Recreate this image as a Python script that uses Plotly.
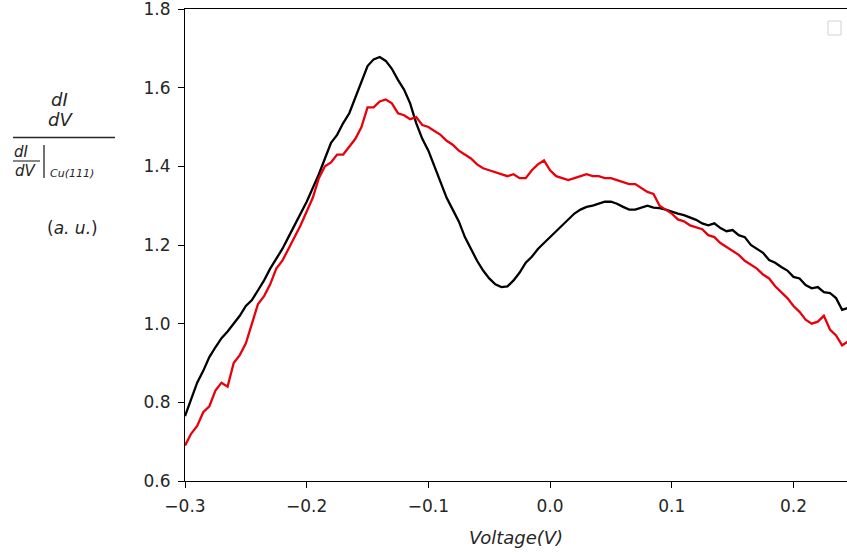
import plotly.graph_objects as go

# ---- data ----
voltage = [round(-0.300 + 0.005 * i, 3) for i in range(110)]

black_curve = [
    0.765, 0.81, 0.85, 0.88, 0.915, 0.94, 0.963, 0.98, 1.00, 1.02,
    1.045, 1.06, 1.085, 1.11, 1.14, 1.165, 1.19, 1.22, 1.25, 1.28,
    1.31, 1.345, 1.38, 1.42, 1.46, 1.48, 1.51, 1.535, 1.575, 1.62,
    1.655, 1.672, 1.678, 1.668, 1.648, 1.62, 1.595, 1.56, 1.51, 1.47,
    1.44, 1.40, 1.36, 1.32, 1.29, 1.26, 1.22, 1.19, 1.16, 1.135,
    1.115, 1.10, 1.093, 1.095, 1.11, 1.13, 1.155, 1.17, 1.19, 1.205,
    1.22, 1.235, 1.25, 1.265, 1.28, 1.29, 1.297, 1.30, 1.305, 1.31,
    1.31, 1.305, 1.297, 1.29, 1.29, 1.296, 1.30, 1.295, 1.294, 1.29,
    1.284, 1.28, 1.276, 1.27, 1.264, 1.255, 1.25, 1.255, 1.243, 1.235,
    1.238, 1.225, 1.22, 1.20, 1.19, 1.18, 1.162, 1.155, 1.144, 1.135,
    1.119, 1.115, 1.098, 1.09, 1.093, 1.08, 1.078, 1.065, 1.035, 1.04,
]

red_curve = [
    0.69, 0.72, 0.74, 0.775, 0.79, 0.83, 0.85, 0.84, 0.90, 0.92,
    0.95, 1.00, 1.05, 1.07, 1.10, 1.14, 1.16, 1.19, 1.22, 1.25,
    1.285, 1.32, 1.37, 1.40, 1.41, 1.43, 1.43, 1.45, 1.47, 1.50,
    1.55, 1.55, 1.565, 1.57, 1.56, 1.535, 1.53, 1.52, 1.525, 1.505,
    1.50, 1.49, 1.48, 1.465, 1.455, 1.44, 1.43, 1.42, 1.405, 1.395,
    1.39, 1.385, 1.38, 1.375, 1.38, 1.37, 1.37, 1.39, 1.405, 1.415,
    1.39, 1.375, 1.37, 1.365, 1.37, 1.375, 1.38, 1.375, 1.375, 1.37,
    1.37, 1.365, 1.36, 1.355, 1.355, 1.345, 1.335, 1.33, 1.30, 1.29,
    1.28, 1.265, 1.26, 1.25, 1.245, 1.24, 1.225, 1.22, 1.205, 1.195,
    1.185, 1.175, 1.16, 1.15, 1.14, 1.125, 1.115, 1.095, 1.08, 1.065,
    1.045, 1.03, 1.01, 1.00, 1.005, 1.02, 0.985, 0.97, 0.945, 0.955,
]

x_ticks = [-0.3, -0.2, -0.1, 0.0, 0.1, 0.2]
y_ticks = [0.6, 0.8, 1.0, 1.2, 1.4, 1.6, 1.8]

# ---- geometry helpers (plot area in pixels) ----
W, H = 847, 556
L, R, T, B = 185, 847, 9, 481


def px(xp):
    return (xp - L) / (R - L)


def py(yp):
    return (B - yp) / (B - T)


fig = go.Figure()
fig.add_trace(go.Scatter(x=voltage, y=black_curve, mode="lines",
                         line=dict(color="#000000", width=2.3), showlegend=False))
fig.add_trace(go.Scatter(x=voltage, y=red_curve, mode="lines",
                         line=dict(color="#e8000b", width=2.3), showlegend=False))

font = "DejaVu Sans"
txt = "#262626"
fig.update_layout(
    width=W, height=H,
    margin=dict(l=L, r=W - R, t=T, b=H - B),
    paper_bgcolor="white", plot_bgcolor="white",
    font=dict(family=font, size=17, color=txt),
    xaxis=dict(range=[-0.3, 0.244], tickvals=x_ticks, tickformat=".1f",
               showline=True, linecolor="black", linewidth=1.2, mirror=True,
               ticks="outside", ticklen=6, tickcolor="black", showgrid=False,
               zeroline=False, tickfont=dict(size=17), ticklabelstandoff=3,
               ticklabeloverflow="allow",
               title=dict(text="<i>Voltage(V)</i>", font=dict(size=18), standoff=16)),
    yaxis=dict(range=[0.6, 1.8], tickvals=y_ticks, tickformat=".1f",
               showline=True, linecolor="black", linewidth=1.2, mirror=False,
               ticks="outside", ticklen=6, tickcolor="black", showgrid=False,
               zeroline=False, tickfont=dict(size=17), ticklabelstandoff=4,
               ticklabeloverflow="allow"),
)

# y-axis label: fraction built from text + lines
ann = []
def add_text(text, xp, yp, size, anchor="center"):
    ann.append(dict(text=text, x=px(xp), y=py(yp),
                    xref="paper", yref="paper", showarrow=False,
                    font=dict(family=font, size=size, color=txt),
                    xanchor=anchor, yanchor="middle"))

add_text("<i>dI</i>", 59, 99, 18)
add_text("<i>dV</i>", 60, 119, 18)
add_text("<i>dI</i>", 21, 152, 15)
add_text("<i>dV</i>", 26, 171, 15)
add_text("<i>Cu(111)</i>", 48, 174, 11, anchor="left")
add_text("(<i>a. u.</i>)", 72, 228, 17)
fig.update_layout(annotations=ann)

shapes = []
shapes.append(dict(type="line", xref="paper", yref="paper",
                   x0=px(13), x1=px(115), y0=py(137.5), y1=py(137.5),
                   line=dict(color=txt, width=1.4)))
shapes.append(dict(type="line", xref="paper", yref="paper",
                   x0=px(13), x1=px(40), y0=py(161), y1=py(161),
                   line=dict(color=txt, width=1.1)))
shapes.append(dict(type="line", xref="paper", yref="paper",
                   x0=px(44), x1=px(44), y0=py(145), y1=py(178),
                   line=dict(color=txt, width=1.3)))
# empty legend box
shapes.append(dict(type="rect", xref="paper", yref="paper",
                   x0=px(828), x1=px(841), y0=py(35), y1=py(21),
                   line=dict(color="#d0d0d0", width=1)))
fig.update_layout(shapes=shapes)

fig.write_html("out.html")
